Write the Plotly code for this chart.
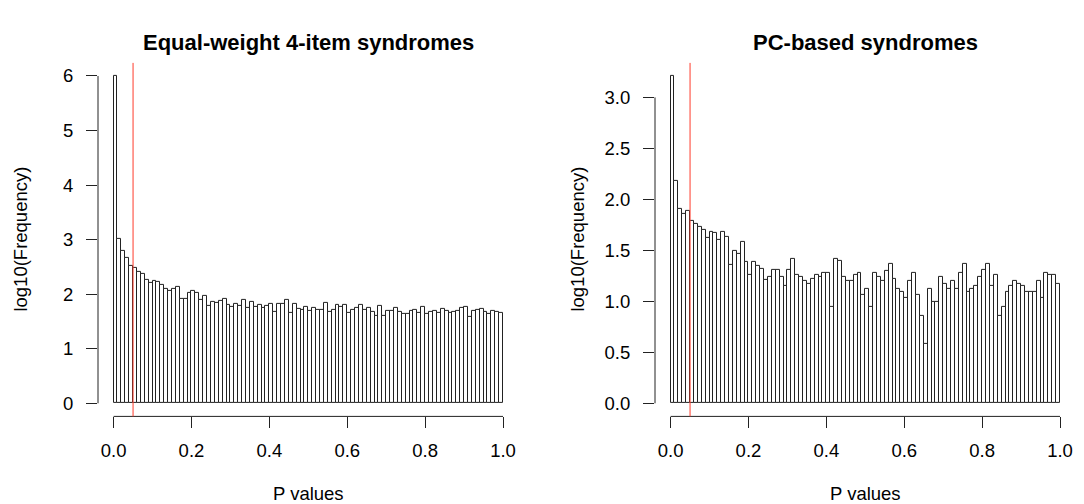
import plotly.graph_objects as go

# ---- data ----
bin_left = [round(i * 0.01, 2) for i in range(100)]

equal_weight = [6.0, 3.01, 2.80, 2.67, 2.52, 2.49, 2.40, 2.38, 2.27, 2.21,
                2.25, 2.23, 2.17, 2.09, 2.06, 2.09, 2.13, 1.92, 1.92, 2.03,
                2.06, 2.03, 1.89, 1.97, 1.78, 1.86, 1.84, 1.88, 1.92, 1.81,
                1.76, 1.82, 1.78, 1.90, 1.75, 1.85, 1.76, 1.81, 1.74, 1.79,
                1.82, 1.68, 1.83, 1.83, 1.90, 1.65, 1.82, 1.73, 1.71, 1.76,
                1.69, 1.74, 1.71, 1.71, 1.84, 1.67, 1.71, 1.80, 1.77, 1.81,
                1.65, 1.72, 1.74, 1.81, 1.71, 1.75, 1.68, 1.60, 1.79, 1.60,
                1.70, 1.69, 1.75, 1.67, 1.64, 1.64, 1.69, 1.71, 1.66, 1.76,
                1.63, 1.67, 1.69, 1.65, 1.73, 1.70, 1.65, 1.67, 1.70, 1.75,
                1.76, 1.59, 1.69, 1.71, 1.73, 1.67, 1.63, 1.69, 1.67, 1.65]

pc_based = [3.21, 2.18, 1.91, 1.86, 1.89, 1.79, 1.76, 1.73, 1.70, 1.62,
            1.68, 1.67, 1.60, 1.68, 1.63, 1.36, 1.49, 1.47, 1.58, 1.39,
            1.26, 1.39, 1.35, 1.32, 1.21, 1.24, 1.31, 1.31, 1.24, 1.15,
            1.31, 1.42, 1.26, 1.24, 1.20, 1.17, 1.22, 1.26, 1.24, 1.28,
            1.28, 0.95, 1.42, 1.40, 1.24, 1.20, 1.20, 1.26, 1.28, 1.06,
            1.12, 0.95, 1.28, 1.24, 1.20, 1.30, 1.37, 1.22, 1.12, 1.09,
            1.03, 1.20, 1.28, 1.06, 0.86, 0.58, 1.12, 0.99, 0.99, 1.24,
            1.17, 1.12, 1.20, 1.12, 1.28, 1.37, 1.09, 1.12, 1.15, 1.24,
            1.31, 1.37, 1.15, 1.26, 0.86, 0.95, 1.09, 1.15, 1.20, 1.17,
            1.15, 1.09, 1.09, 1.09, 1.20, 1.03, 1.28, 1.26, 1.26, 1.17]

x_ticks = [0, 0.2, 0.4, 0.6, 0.8, 1.0]
x_ticktext = ["0.0", "0.2", "0.4", "0.6", "0.8", "1.0"]
y1_ticks = [0, 1, 2, 3, 4, 5, 6]
y1_ticktext = ["0", "1", "2", "3", "4", "5", "6"]
y2_ticks = [0, 0.5, 1.0, 1.5, 2.0, 2.5, 3.0]
y2_ticktext = ["0.0", "0.5", "1.0", "1.5", "2.0", "2.5", "3.0"]

titles = ["Equal-weight 4-item syndromes", "PC-based syndromes"]
cutoff = 0.05

W, H = 1084, 504
FONT = "Liberation Sans, Arial, Helvetica, sans-serif"

fig = go.Figure()
for vals, xa, ya in [(equal_weight, "x", "y"), (pc_based, "x2", "y2")]:
    fig.add_trace(go.Bar(x=bin_left, y=vals, width=0.01, offset=0,
                         marker=dict(color="white", line=dict(color="#222222", width=1)),
                         xaxis=xa, yaxis=ya, showlegend=False, hoverinfo="x+y"))

# plot regions in pixels (R style, 4% padding)
left_dom = [98 / W, 518.6 / W]
right_dom = [655 / W, 1075.6 / W]
y_dom = [1 - 416.4 / H, 1 - 62.9 / H]

m1 = max(equal_weight)
m2 = max(pc_based)

common_x = dict(range=[-0.04, 1.04], tickvals=x_ticks, ticktext=x_ticktext,
                ticks="outside", ticklen=11, tickwidth=1, tickcolor="#222222",
                showgrid=False, zeroline=False, showline=False,
                tickfont=dict(family=FONT, size=18.5, color="black"),
                ticklabelstandoff=6, fixedrange=True)
common_y = dict(ticks="outside", ticklen=11, tickwidth=1, tickcolor="#222222",
                showgrid=False, zeroline=False, showline=False,
                tickfont=dict(family=FONT, size=18.5, color="black"),
                ticklabelstandoff=9, fixedrange=True)

fig.update_layout(
    width=W, height=H,
    margin=dict(l=0, r=0, t=0, b=0),
    paper_bgcolor="white", plot_bgcolor="white",
    bargap=0,
    xaxis=dict(domain=left_dom, anchor="y", **common_x),
    xaxis2=dict(domain=right_dom, anchor="y2", **common_x),
    yaxis=dict(domain=y_dom, anchor="x", range=[-0.04 * m1, 1.04 * m1],
               tickvals=y1_ticks, ticktext=y1_ticktext, **common_y),
    yaxis2=dict(domain=y_dom, anchor="x2", range=[-0.04 * m2, 1.04 * m2],
                tickvals=y2_ticks, ticktext=y2_ticktext, **common_y),
)

shapes = []
for xa, ya, ytop in [("x", "y", 6), ("x2", "y2", 3.0)]:
    shapes.append(dict(type="line", xref=xa, yref=ya + " domain", x0=0, x1=1, y0=0, y1=0,
                       line=dict(color="#222222", width=1)))
    shapes.append(dict(type="line", xref=xa + " domain", yref=ya, x0=0, x1=0, y0=0, y1=ytop,
                       line=dict(color="#222222", width=1)))
    shapes.append(dict(type="line", xref=xa, yref=ya + " domain", x0=cutoff, x1=cutoff, y0=0, y1=1,
                       line=dict(color="#ff3b2b", width=1)))
fig.update_layout(shapes=shapes)

ann = []
centers = [(98 + 518.6) / 2, (655 + 1075.6) / 2]
ylab_x = [21, 578]
for i in range(2):
    ann.append(dict(text="<b>" + titles[i] + "</b>", x=centers[i] / W, y=1 - 42 / H,
                    xref="paper", yref="paper", showarrow=False, xanchor="center", yanchor="middle",
                    font=dict(family=FONT, size=22, color="black")))
    ann.append(dict(text="P values", x=centers[i] / W, y=1 - 493 / H,
                    xref="paper", yref="paper", showarrow=False, xanchor="center", yanchor="middle",
                    font=dict(family=FONT, size=18.5, color="black")))
    ann.append(dict(text="log10(Frequency)", x=ylab_x[i] / W, y=1 - 239.6 / H, textangle=-90,
                    xref="paper", yref="paper", showarrow=False, xanchor="center", yanchor="middle",
                    font=dict(family=FONT, size=18.5, color="black")))
fig.update_layout(annotations=ann)

fig.write_html("out.html", config={"displayModeBar": False},
               post_script="document.body.style.margin='0';document.body.style.padding='0';document.body.style.overflow='hidden';")
